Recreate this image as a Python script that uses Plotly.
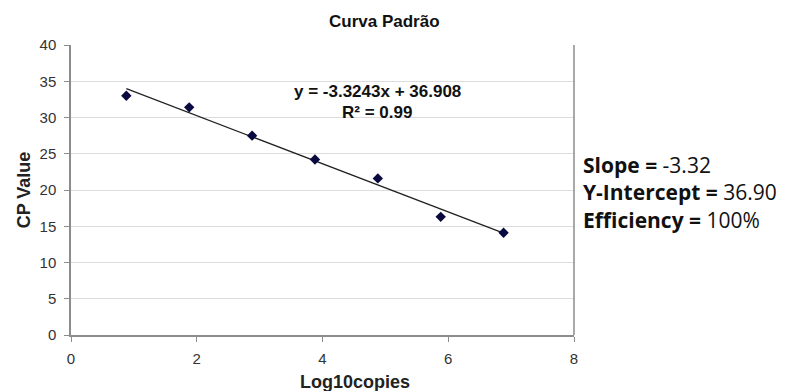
import plotly.graph_objects as go

# Data
log10_copies = [0.88, 1.88, 2.88, 3.88, 4.88, 5.88, 6.88]
cp_values = [33.0, 31.4, 27.5, 24.2, 21.6, 16.3, 14.1]
slope = -3.3243
intercept = 36.908
r_squared = 0.99
x_ticks = [0, 2, 4, 6, 8]
y_ticks = [0, 5, 10, 15, 20, 25, 30, 35, 40]
stats = [("Slope", "-3.32"), ("Y-Intercept", "36.90"), ("Efficiency", "100%")]

line_x = [min(log10_copies), max(log10_copies)]
line_y = [slope * v + intercept for v in line_x]

fig = go.Figure()
fig.add_trace(go.Scatter(x=line_x, y=line_y, mode="lines",
                         line=dict(color="#222222", width=1.3),
                         hoverinfo="skip", showlegend=False))
fig.add_trace(go.Scatter(x=log10_copies, y=cp_values, mode="markers",
                         marker=dict(symbol="diamond", size=8, color="#0a0a40"),
                         showlegend=False))

AF = "Liberation Sans, Arial, sans-serif"
# page body has an 8px margin, so the figure is sized/offset accordingly
fig.update_layout(
    width=792, height=383,
    margin=dict(l=63, r=226, t=37, b=56),
    paper_bgcolor="white", plot_bgcolor="white",
    font=dict(family=AF, color="#333333"),
    xaxis=dict(range=[0, 8], tickvals=x_ticks, showgrid=False, automargin=False,
               showline=True, linecolor="#8c8c8c", linewidth=1.5,
               ticks="outside", ticklen=5, tickcolor="#8c8c8c", ticklabelstandoff=4,
               tickfont=dict(size=15, color="#333333"), zeroline=False),
    yaxis=dict(range=[0, 40], tickvals=y_ticks, showgrid=True, gridcolor="#dcdcdc", gridwidth=1,
               showline=True, linecolor="#8c8c8c", linewidth=1.5, automargin=False,
               ticks="outside", ticklen=5, tickcolor="#8c8c8c", ticklabelstandoff=5,
               tickfont=dict(size=15, color="#333333"), zeroline=False,
               title=dict(text="<b>CP Value</b>", font=dict(size=18, color="#222222"), standoff=4)),
    shapes=[dict(type="line", xref="paper", yref="paper", x0=1, x1=1, y0=0, y1=1,
                 line=dict(color="#8c8c8c", width=1.5))],
)

annotations = [
    dict(text="<b>Curva Padrão</b>", xref="paper", yref="paper", x=(384 - 71) / 503, y=1,
         yanchor="middle", yshift=24, showarrow=False, font=dict(size=17, color="#111111", family=AF)),
    dict(text="<b>Log10copies</b>", xref="paper", yref="paper", x=(355 - 71) / 503,
         y=(335 - 382) / 290, yanchor="middle", showarrow=False,
         font=dict(size=18, color="#222222", family=AF)),
    dict(text=f"<b>y = {slope}x + {intercept}</b>", x=4.87, y=33.6, xref="x", yref="y",
         showarrow=False, font=dict(size=17, color="#111111", family=AF)),
    dict(text=f"<b>R² = {r_squared}</b>", x=4.87, y=30.7, xref="x", yref="y",
         showarrow=False, font=dict(size=17, color="#111111", family=AF)),
    dict(text="<br>".join(f"<b>{k} =</b> {v}" for k, v in stats),
         xref="paper", yref="paper", x=1, xshift=7, xanchor="left", align="left",
         y=(335 - 192) / 290, yanchor="middle", showarrow=False,
         font=dict(size=21, color="#111111", family="Open Sans, Noto Sans, sans-serif")),
]
fig.update_layout(annotations=annotations)

fig.write_html("out.html")
